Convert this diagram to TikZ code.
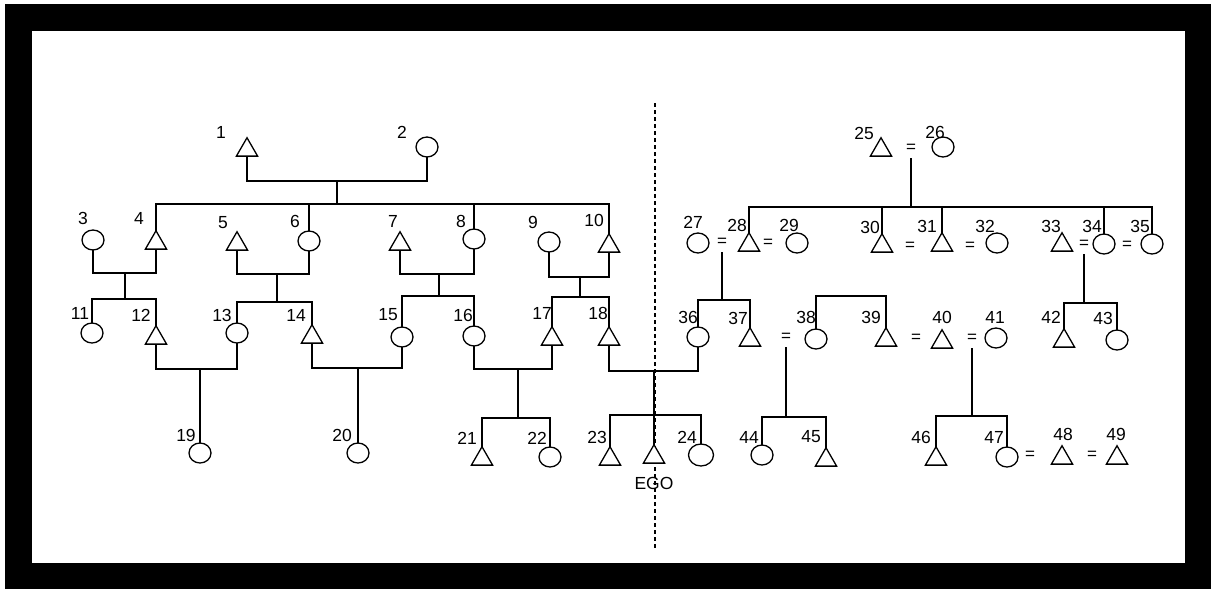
\documentclass[tikz,border=0pt]{standalone}
\usepackage{fontspec}
\setmainfont{Liberation Sans}
\usetikzlibrary{shapes.geometric}
\tikzset{
  tri/.style={draw, fill=white, regular polygon, regular polygon sides=3, minimum size=24.5pt, inner sep=0pt, outer sep=0pt, line width=1.3pt},
  cir/.style={draw, fill=white, ellipse, minimum width=22pt, minimum height=20pt, inner sep=0pt, outer sep=0pt, line width=1.3pt},
  bigcir/.style={cir, minimum width=25pt, minimum height=22pt},
  lbl/.style={font=\fontsize{17.5}{17.5}\selectfont, inner sep=0pt},
  eq/.style={font=\fontsize{17}{17}\selectfont, inner sep=0pt, minimum height=20pt},
  conn/.style={line width=1.6pt},
  divider/.style={line width=1.2pt, dash pattern=on 4pt off 3pt}
}
\begin{document}
\begin{tikzpicture}[x=1pt,y=-1pt]
\useasboundingbox (0,0) rectangle (1211,589);
\fill[white] (0,0) rectangle (1211,589);
\fill[black] (5,4) rectangle (1211,589);
\fill[white] (32,31) rectangle (1185,563);

% dashed divider
\coordinate (dtop) at (655,103);
\coordinate (dbot) at (655,550);
\draw[divider] (dtop) -- (dbot);

% triangles
\node[tri] (n1) at (247,150) {};
\node[tri] (n4) at (156,243) {};
\node[tri] (n5) at (237,244) {};
\node[tri] (n7) at (400,244) {};
\node[tri] (n10) at (609,246) {};
\node[tri] (n12) at (156,338) {};
\node[tri] (n14) at (312,337) {};
\node[tri] (n17) at (552,339) {};
\node[tri] (n18) at (609,339) {};
\node[tri] (n21) at (482,459) {};
\node[tri] (n23) at (610,459) {};
\node[tri] (nego) at (654,457) {};
\node[tri] (n25) at (881,150) {};
\node[tri] (n28) at (749,245) {};
\node[tri] (n30) at (882,246) {};
\node[tri] (n31) at (942,245) {};
\node[tri] (n33) at (1062,245) {};
\node[tri] (n37) at (750,340) {};
\node[tri] (n39) at (886,340) {};
\node[tri] (n40) at (942,342) {};
\node[tri] (n42) at (1064,341) {};
\node[tri] (n45) at (826,460) {};
\node[tri] (n46) at (936,459) {};
\node[tri] (n48) at (1062,458) {};
\node[tri] (n49) at (1117,458) {};

% circles
\node[cir] (n2) at (427,147) {};
\node[cir] (n3) at (93,240) {};
\node[cir] (n6) at (309,241) {};
\node[cir] (n8) at (474,239) {};
\node[cir] (n9) at (549,242) {};
\node[cir] (n11) at (92,333) {};
\node[cir] (n13) at (237,333) {};
\node[cir] (n15) at (402,337) {};
\node[cir] (n16) at (474,336) {};
\node[cir] (n19) at (200,453) {};
\node[cir] (n20) at (358,453) {};
\node[cir] (n22) at (550,457) {};
\node[bigcir] (n24) at (701,455) {};
\node[cir] (n26) at (943,147) {};
\node[cir] (n27) at (698,243) {};
\node[cir] (n29) at (797,243) {};
\node[cir] (n32) at (997,243) {};
\node[cir] (n34) at (1104,244) {};
\node[cir] (n35) at (1152,244) {};
\node[cir] (n36) at (698,337) {};
\node[cir] (n38) at (816,339) {};
\node[cir] (n41) at (996,338) {};
\node[cir] (n43) at (1117,340) {};
\node[cir] (n44) at (762,455) {};
\node[cir] (n47) at (1007,457) {};

% marriage signs
\node[eq] (e2526) at (911,148) {=};
\node[eq] (e2728) at (722,242) {=};
\node[eq] (e2829) at (768,243) {=};
\node[eq] (e3031) at (910,246) {=};
\node[eq] (e3132) at (970,246) {=};
\node[eq] (e3334) at (1084,244) {=};
\node[eq] (e3435) at (1127,245) {=};
\node[eq] (e3738) at (786,337) {=};
\node[eq] (e3940) at (916,338) {=};
\node[eq] (e4041) at (972,338) {=};
\node[eq] (e4748) at (1030,455) {=};
\node[eq] (e4849) at (1092,455) {=};

% labels
\node[lbl] (l1) at (221,132) {1};
\node[lbl] (l2) at (402,132) {2};
\node[lbl] (l3) at (83,218) {3};
\node[lbl] (l4) at (139,218) {4};
\node[lbl] (l5) at (223,223) {5};
\node[lbl] (l6) at (295,221) {6};
\node[lbl] (l7) at (393,221) {7};
\node[lbl] (l8) at (461,221) {8};
\node[lbl] (l9) at (533,222) {9};
\node[lbl] (l10) at (594,220) {10};
\node[lbl] (l11) at (80,313) {11};
\node[lbl] (l12) at (141,315) {12};
\node[lbl] (l13) at (222,315) {13};
\node[lbl] (l14) at (296,315) {14};
\node[lbl] (l15) at (388,315) {15};
\node[lbl] (l16) at (463,315) {16};
\node[lbl] (l17) at (542,313) {17};
\node[lbl] (l18) at (598,313) {18};
\node[lbl] (l19) at (186,435) {19};
\node[lbl] (l20) at (342,435) {20};
\node[lbl] (l21) at (467,438) {21};
\node[lbl] (l22) at (537,438) {22};
\node[lbl] (l23) at (597,437) {23};
\node[lbl] (l24) at (687,437) {24};
\node[lbl] (l25) at (864,133) {25};
\node[lbl] (l26) at (935,132) {26};
\node[lbl] (l27) at (693,222) {27};
\node[lbl] (l28) at (737,225) {28};
\node[lbl] (l29) at (789,225) {29};
\node[lbl] (l30) at (870,227) {30};
\node[lbl] (l31) at (927,226) {31};
\node[lbl] (l32) at (985,226) {32};
\node[lbl] (l33) at (1051,226) {33};
\node[lbl] (l34) at (1092,226) {34};
\node[lbl] (l35) at (1140,226) {35};
\node[lbl] (l36) at (688,317) {36};
\node[lbl] (l37) at (738,318) {37};
\node[lbl] (l38) at (806,317) {38};
\node[lbl] (l39) at (871,317) {39};
\node[lbl] (l40) at (942,317) {40};
\node[lbl] (l41) at (995,317) {41};
\node[lbl] (l42) at (1051,317) {42};
\node[lbl] (l43) at (1103,318) {43};
\node[lbl] (l44) at (749,437) {44};
\node[lbl] (l45) at (811,437) {45};
\node[lbl] (l46) at (921,437) {46};
\node[lbl] (l47) at (994,437) {47};
\node[lbl] (l48) at (1063,434) {48};
\node[lbl] (l49) at (1116,434) {49};
\node[lbl] (lego) at (654,483) {EGO};

% junction points
\coordinate (m1) at (337,181);
\coordinate (s1) at (337,204);
\coordinate (m34) at (125,273);
\coordinate (s34) at (125,299);
\coordinate (m56) at (277,274);
\coordinate (s56) at (277,302);
\coordinate (m78) at (439,274);
\coordinate (s78) at (439,296);
\coordinate (m910) at (580,277);
\coordinate (s910) at (580,297);
\coordinate (m1213) at (200,369);
\coordinate (m1415) at (358,368);
\coordinate (m1617) at (518,369);
\coordinate (s1617) at (518,418);
\coordinate (m1836) at (654,371);
\coordinate (sego) at (654,415);
\coordinate (s25) at (911,207);
\coordinate (s2728) at (722,300);
\coordinate (s3839) at (850,296);
\coordinate (s3334) at (1084,303);
\coordinate (s3738) at (786,417);
\coordinate (s4041) at (972,416);

\begin{scope}[conn]
% left side
\draw (n1.south) |- (m1) -| (n2.south);
\draw (m1) -- (s1);
\draw (n4.north) |- (s1) -| (n10.north);
\draw (n6.north) -- (n6.north |- s1);
\draw (n8.north) -- (n8.north |- s1);
\draw (n3.south) |- (m34) -| (n4.south);
\draw (m34) -- (s34);
\draw (n11.north) |- (s34) -| (n12.north);
\draw (n5.south) |- (m56) -| (n6.south);
\draw (m56) -- (s56);
\draw (n13.north) |- (s56) -| (n14.north);
\draw (n7.south) |- (m78) -| (n8.south);
\draw (m78) -- (s78);
\draw (n15.north) |- (s78) -| (n16.north);
\draw (n9.south) |- (m910) -| (n10.south);
\draw (m910) -- (s910);
\draw (n17.north) |- (s910) -| (n18.north);
\draw (n12.south) |- (m1213) -| (n13.south);
\draw (m1213) -- (n19.north);
\draw (n14.south) |- (m1415) -| (n15.south);
\draw (m1415) -- (n20.north);
\draw (n16.south) |- (m1617) -| (n17.south);
\draw (m1617) -- (s1617);
\draw (n21.north) |- (s1617) -| (n22.north);
\draw (n18.south) |- (m1836) -| (n36.south);
\draw (m1836) -- (nego.north);
\draw (n23.north) |- (sego) -| (n24.north);
% right side
\draw (e2526.south) -- (s25);
\draw (n28.north) |- (s25) -| (n35.north);
\draw (n30.north) -- (n30.north |- s25);
\draw (n31.north) -- (n31.north |- s25);
\draw (n34.north) -- (n34.north |- s25);
\draw (e2728.south) -- (s2728);
\draw (n36.north) |- (s2728) -| (n37.north);
\draw (n38.north) |- (s3839) -| (n39.north);
\draw (e3334.south) -- (s3334);
\draw (n42.north) |- (s3334) -| (n43.north);
\draw (e3738.south) -- (s3738);
\draw (n44.north) |- (s3738) -| (n45.north);
\draw (e4041.south) -- (s4041);
\draw (n46.north) |- (s4041) -| (n47.north);
\end{scope}
\end{tikzpicture}
\end{document}
